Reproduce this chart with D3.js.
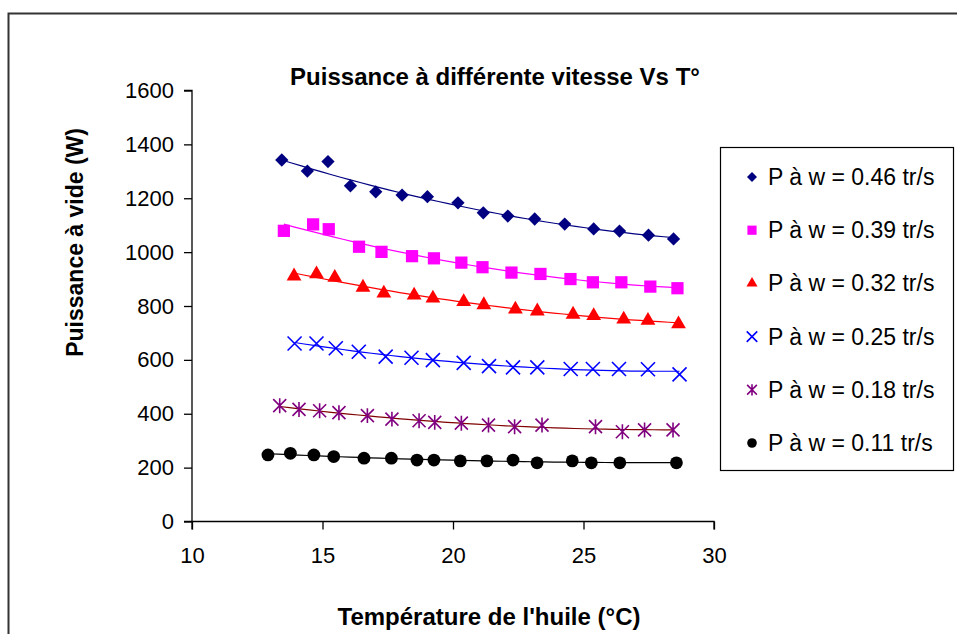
<!DOCTYPE html>
<html><head><meta charset="utf-8">
<script src="https://cdn.jsdelivr.net/npm/d3@7"></script>
<style>
body{margin:0;background:#fff;}
svg{display:block;font-family:"Liberation Sans",Arial,sans-serif;}
</style></head><body>
<svg id="c" width="957" height="634"></svg>
<script>
// ---- data ----
const xTicks = [10, 15, 20, 25, 30];
const yTicks = [0, 200, 400, 600, 800, 1000, 1200, 1400, 1600];
const seriesNames = ["P à w = 0.46 tr/s","P à w = 0.39 tr/s","P à w = 0.32 tr/s","P à w = 0.25 tr/s","P à w = 0.18 tr/s","P à w = 0.11 tr/s"];

const t046 = [13.44,14.42,15.21,16.07,17.04,18.05,19.02,20.19,21.16,22.10,23.13,24.28,25.39,26.38,27.49,28.45];
const p046 = [1342,1301,1336,1246,1224,1212,1206,1183,1146,1134,1123,1104,1086,1078,1063,1049];

const t039 = [13.52,14.64,15.24,16.40,17.26,18.43,19.27,20.32,21.13,22.24,23.35,24.50,25.36,26.45,27.56,28.60];
const p039 = [1079,1103,1085,1020,1001,985,977,961,944,924,919,900,888,888,872,866];

const t032 = [13.91,14.77,15.47,16.55,17.35,18.51,19.23,20.41,21.18,22.39,23.23,24.60,25.39,26.54,27.47,28.64];
const p032 = [911,919,906,869,847,840,829,816,804,788,781,769,764,751,746,733];

const t025 = [13.93,14.77,15.51,16.39,17.42,18.41,19.23,20.41,21.38,22.30,23.23,24.51,25.36,26.36,27.47,28.68];
const p025 = [661,661,643,630,612,608,599,589,577,572,572,566,566,566,565,546];

const t018 = [13.36,14.10,14.89,15.63,16.72,17.66,18.70,19.30,20.32,21.36,22.36,23.41,25.46,26.49,27.34,28.43];
const p018 = [430,416,411,404,393,380,374,368,365,358,352,358,352,333,340,340];

const t011 = [12.91,13.77,14.67,15.43,16.59,17.64,18.62,19.27,20.28,21.30,22.30,23.22,24.57,25.30,26.39,28.56];
const p011 = [247,253,247,241,235,235,228,228,225,225,228,218,225,218,218,218];

const series = [
  {name: seriesNames[0], t: t046, p: p046, sym: "diamond",  fill: "#000080", line: "#000080"},
  {name: seriesNames[1], t: t039, p: p039, sym: "square",   fill: "#FF00FF", line: "#FF00FF"},
  {name: seriesNames[2], t: t032, p: p032, sym: "triangle", fill: "#FF0000", line: "#FF0000"},
  {name: seriesNames[3], t: t025, p: p025, sym: "x",        fill: "#0000FF", line: "#0000FF"},
  {name: seriesNames[4], t: t018, p: p018, sym: "star",     fill: "#800080", line: "#800000"},
  {name: seriesNames[5], t: t011, p: p011, sym: "circle",   fill: "#000000", line: "#000000"}
];

// ---- layout ----
const svg = d3.select("#c");
const L = 192, R = 714, T = 90.5, B = 521.5;
const x = d3.scaleLinear().domain([10, 30]).range([L, R]);
const y = d3.scaleLinear().domain([0, 1600]).range([B, T]);

// outer chart border
svg.append("rect").attr("x", 8.5).attr("y", 13.5).attr("width", 1000).attr("height", 700)
  .attr("fill", "none").attr("stroke", "#333").attr("stroke-width", 2);

// axes
const gx = svg.append("g").attr("transform", `translate(0,${B})`)
  .call(d3.axisBottom(x).tickValues(xTicks).tickSize(8).tickPadding(18).tickFormat(d3.format("d")));
const gy = svg.append("g").attr("transform", `translate(${L},0)`)
  .call(d3.axisLeft(y).tickValues(yTicks).tickSize(8).tickPadding(10).tickFormat(d3.format("d")));
[gx, gy].forEach(g => {
  g.select(".domain").attr("stroke", "#000").attr("stroke-width", 1.3);
  g.selectAll(".tick line").attr("stroke", "#000").attr("stroke-width", 1.3);
  g.selectAll(".tick text").attr("fill", "#000").attr("font-size", 22)
    .attr("font-family", '"Liberation Sans",Arial,sans-serif');
});
gx.select(".domain").attr("d", `M${L},8V0H${R}V8`);
gy.select(".domain").attr("d", `M-8,${T}H0V${B}H-8`);

// titles
svg.append("text").attr("x", 495).attr("y", 85).attr("text-anchor", "middle")
  .attr("font-size", 24).attr("font-weight", "bold").text("Puissance à différente vitesse Vs T°");
svg.append("text").attr("x", 489).attr("y", 625).attr("text-anchor", "middle")
  .attr("font-size", 24).attr("font-weight", "bold").text("Température de l'huile (°C)");
svg.append("text").attr("transform", "translate(83,128) rotate(-90)").attr("text-anchor", "end")
  .attr("font-size", 23).attr("font-weight", "bold").text("Puissance à vide (W)");

// quadratic least-squares trendline
function quadFit(xs, ys) {
  const n = xs.length;
  let s = [0,0,0,0,0], sy = [0,0,0];
  for (let i = 0; i < n; i++) {
    const a = xs[i], b = ys[i];
    for (let k = 0; k < 5; k++) s[k] += Math.pow(a, k);
    for (let k = 0; k < 3; k++) sy[k] += b * Math.pow(a, k);
  }
  const M = [[s[0],s[1],s[2],sy[0]],[s[1],s[2],s[3],sy[1]],[s[2],s[3],s[4],sy[2]]];
  for (let i = 0; i < 3; i++) {
    let p = i; for (let r = i+1; r < 3; r++) if (Math.abs(M[r][i]) > Math.abs(M[p][i])) p = r;
    [M[i], M[p]] = [M[p], M[i]];
    for (let r = 0; r < 3; r++) if (r !== i) {
      const f = M[r][i] / M[i][i];
      for (let c = i; c < 4; c++) M[r][c] -= f * M[i][c];
    }
  }
  const c = [M[0][3]/M[0][0], M[1][3]/M[1][1], M[2][3]/M[2][2]];
  return v => c[0] + c[1]*v + c[2]*v*v;
}

const line = d3.line().x(d => x(d[0])).y(d => y(d[1]));
series.forEach(s => {
  const f = quadFit(s.t, s.p);
  const x0 = d3.min(s.t), x1 = d3.max(s.t);
  const pts = d3.range(0, 41).map(i => { const v = x0 + (x1 - x0) * i / 40; return [v, f(v)]; });
  svg.append("path").attr("d", line(pts)).attr("fill", "none")
    .attr("stroke", s.line).attr("stroke-width", 1.2);
});

// marker drawing
function marker(g, sym, color, k) {
  if (sym === "diamond") {
    g.append("path").attr("d", d3.symbol(d3.symbolSquare, 88 * k * k)())
      .attr("transform", "rotate(45)").attr("fill", color);
  } else if (sym === "square") {
    g.append("path").attr("d", d3.symbol(d3.symbolSquare, 150 * k * k)()).attr("fill", color);
  } else if (sym === "triangle") {
    g.append("path").attr("d", d3.symbol(d3.symbolTriangle, 95 * k * k)()).attr("fill", color);
  } else if (sym === "circle") {
    g.append("circle").attr("r", 6.4 * k).attr("fill", color);
  } else if (sym === "x") {
    const h = 7 * k;
    g.append("path").attr("d", `M${-h},${-h}L${h},${h}M${-h},${h}L${h},${-h}`)
      .attr("stroke", color).attr("stroke-width", 1.6).attr("fill", "none");
  } else if (sym === "star") {
    const h = 6.5 * k;
    g.append("path").attr("d", `M${-h},${-h}L${h},${h}M${-h},${h}L${h},${-h}M0,${-h*1.15}L0,${h*1.15}`)
      .attr("stroke", color).attr("stroke-width", 1.6).attr("fill", "none");
  }
}

series.forEach(s => {
  s.t.forEach((tv, i) => {
    const g = svg.append("g").attr("transform", `translate(${x(tv)},${y(s.p[i])})`);
    marker(g, s.sym, s.fill, 1);
  });
});

// legend
svg.append("rect").attr("x", 720.5).attr("y", 147.5).attr("width", 233).attr("height", 323)
  .attr("fill", "#fff").attr("stroke", "#000").attr("stroke-width", 1.2);
const legY = d3.scalePoint().domain(seriesNames).range([177, 443]);
series.forEach(s => {
  const g = svg.append("g").attr("transform", `translate(752,${legY(s.name)})`);
  marker(g, s.sym, s.fill, 0.75);
  svg.append("text").attr("x", 768).attr("y", legY(s.name) + 8).attr("font-size", 23)
    .attr("fill", "#000").text(s.name);
});
</script>
</body></html>
